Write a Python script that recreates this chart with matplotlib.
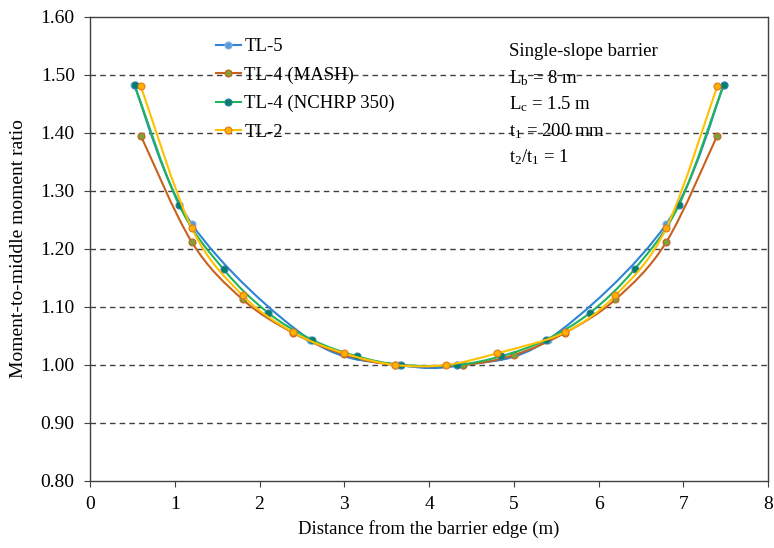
import numpy as np
import matplotlib.pyplot as plt
from matplotlib.path import Path
from matplotlib.patches import PathPatch
from matplotlib.lines import Line2D

plt.rcParams['font.family'] = ['Liberation Serif', 'DejaVu Serif']
plt.rcParams['mathtext.fontset'] = 'custom'
plt.rcParams['mathtext.rm'] = 'Liberation Serif'
plt.rcParams['mathtext.it'] = 'Liberation Serif:italic'

# data
tl5_x = [0.52, 1.2, 2.6, 3.65, 4.4, 5.4, 6.8, 7.48]
tl5_y = [1.483, 1.243, 1.043, 1.000, 1.000, 1.043, 1.243, 1.483]

mash_x = [0.6, 1.2, 1.8, 2.4, 3.0, 3.6, 4.4, 5.0, 5.6, 6.2, 6.8, 7.4]
mash_y = [1.395, 1.212, 1.113, 1.055, 1.018, 1.000, 1.000, 1.017, 1.055, 1.113, 1.212, 1.395]

nchrp_x = [0.525, 1.05, 1.575, 2.1, 2.625, 3.15, 3.675, 4.325, 4.85, 5.375, 5.9, 6.425, 6.95, 7.475]
nchrp_y = [1.483, 1.276, 1.165, 1.090, 1.043, 1.015, 1.000, 1.000, 1.015, 1.043, 1.090, 1.165, 1.276, 1.483]

tl2_x = [0.6, 1.2, 1.8, 2.4, 3.0, 3.6, 4.2, 4.8, 5.6, 6.2, 6.8, 7.4]
tl2_y = [1.480, 1.236, 1.120, 1.056, 1.020, 1.000, 1.000, 1.020, 1.056, 1.120, 1.236, 1.480]

labels = ['TL-5', 'TL-4 (MASH)', 'TL-4 (NCHRP 350)', 'TL-2']
note = ['Single-slope barrier', r'L$_{\rm b}$ = 8 m', r'L$_{\rm c}$ = 1.5 m',
        r't$_{\rm 1}$ = 200 mm', r't$_{\rm 2}$/t$_{\rm 1}$ = 1']

series = [
    (tl5_x, tl5_y, '#2E83D6', '#5B9BD5', '#7FB2E5'),
    (mash_x, mash_y, '#C8601E', '#7FA03A', '#C8601E'),
    (nchrp_x, nchrp_y, '#1DB45A', '#00806A', '#2F7FA0'),
    (tl2_x, tl2_y, '#FFC000', '#FFB000', '#E07A20'),
]


def smooth_path(x, y):
    # excel-like smoothed line: cubic bezier through every point
    p = np.column_stack([x, y])
    n = len(p)
    verts = [p[0]]
    codes = [Path.MOVETO]
    for i in range(n - 1):
        p0 = p[max(i - 1, 0)]
        p3 = p[min(i + 2, n - 1)]
        c1 = p[i] + (p[i + 1] - p0) / 6
        c2 = p[i + 1] - (p3 - p[i]) / 6
        verts += [c1, c2, p[i + 1]]
        codes += [Path.CURVE4] * 3
    return Path(verts, codes)


fig = plt.figure(figsize=(7.74, 5.48), dpi=100)
ax = fig.add_axes([0.1163, 0.1223, 0.876, 0.847])

handles = []
for k, (x, y, lc, mfc, mec) in enumerate(series):
    ax.add_patch(PathPatch(smooth_path(x, y), fill=False, edgecolor=lc,
                           lw=1.5, zorder=3 + k))
    ax.plot(x, y, 'o', ms=5, mfc=mfc, mec=mec, mew=0.8, zorder=3 + k)
    handles.append(Line2D([], [], color=lc, lw=1.5, marker='o', ms=5,
                          mfc=mfc, mec=mec, mew=0.8))

ax.set_xlim(0, 8)
ax.set_ylim(0.8, 1.6)
ax.set_xticks(range(0, 9))
ax.set_yticks(np.arange(0.8, 1.61, 0.1))
ax.yaxis.set_major_formatter(plt.FormatStrFormatter('%.2f'))
ax.tick_params(labelsize=14, direction='out', length=4, pad=7, color='#404040')
for s in ax.spines.values():
    s.set_color('#404040')
    s.set_linewidth(1.0)

for gy in np.arange(0.9, 1.55, 0.1):
    ax.axhline(gy, color='#404040', ls=(0, (4, 3)), lw=1.0, zorder=1)

ax.set_xlabel('Distance from the barrier edge (m)', fontsize=13.5, labelpad=5)
ax.set_ylabel('Moment-to-middle moment ratio', fontsize=14, labelpad=10)

ax.legend(handles, labels, loc='upper left', bbox_to_anchor=(0.175, 0.97),
          frameon=False, fontsize=13.5, handlelength=1.3, handletextpad=0.2,
          labelspacing=0.6, borderaxespad=0)

for i, t in enumerate(note):
    ax.text(0.618, 0.925 - i * 0.057, t, transform=ax.transAxes,
            fontsize=13.5, va='center', ha='left', zorder=10)

fig.savefig('out.png', dpi=100)
